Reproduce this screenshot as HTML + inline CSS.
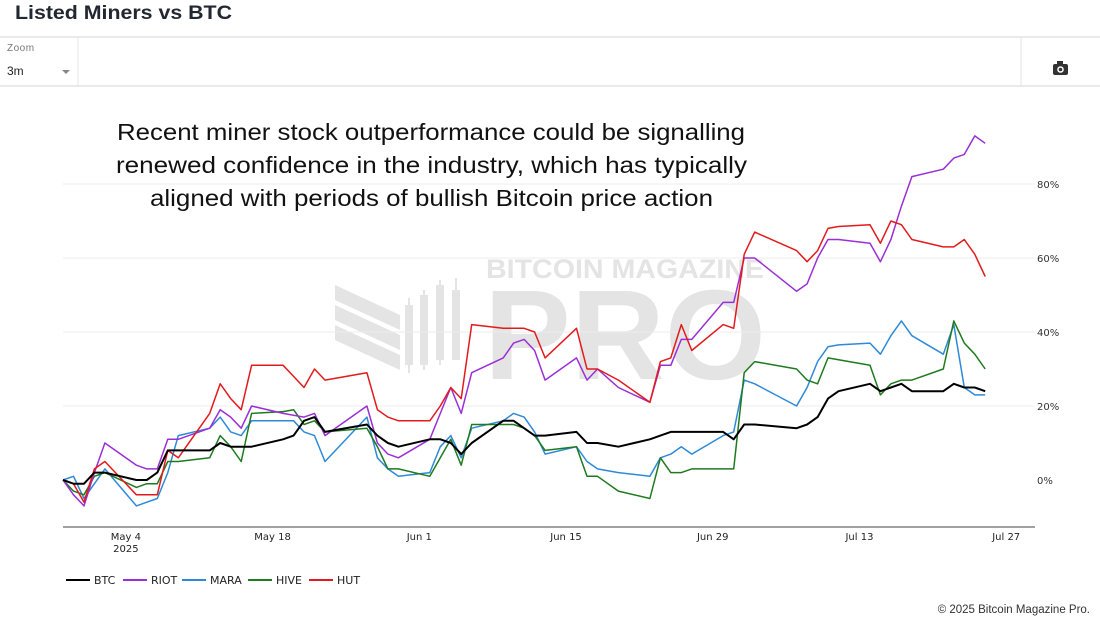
<!DOCTYPE html>
<html><head><meta charset="utf-8">
<style>
body{margin:0;background:#fff;width:1100px;height:618px;overflow:hidden;font-family:"Liberation Sans",sans-serif;}
#wrap{position:relative;width:1100px;height:618px;}
</style></head>
<body><div id="wrap">
<svg id="chart" width="1100" height="618" viewBox="0 0 1100 618" xmlns="http://www.w3.org/2000/svg">
<text x="15" y="19" font-size="19" font-weight="bold" fill="#222831" textLength="217" lengthAdjust="spacingAndGlyphs">Listed Miners vs BTC</text>
<line x1="0" y1="37" x2="1100" y2="37" stroke="#e4e4e4" stroke-width="1.5"/>
<line x1="0" y1="86" x2="1100" y2="86" stroke="#e4e4e4" stroke-width="1.5"/>
<line x1="78" y1="37" x2="78" y2="86" stroke="#e4e4e4"/>
<line x1="1021" y1="37" x2="1021" y2="86" stroke="#e4e4e4"/>
<g>
<text x="7" y="51" font-size="10" fill="#777" letter-spacing="0.5">Zoom</text>
<text x="7" y="75" font-size="12" fill="#222">3m</text>
<path d="M62 70 L70 70 L66 74 Z" fill="#888"/>
</g>
<g>
<rect x="1053" y="64" width="15" height="11" rx="2" fill="#333"/>
<rect x="1057" y="61" width="6" height="4" fill="#333"/>
<circle cx="1060.5" cy="69.5" r="3.3" fill="#fff"/>
<circle cx="1060.5" cy="69.5" r="1.8" fill="#333"/>
</g>
<g fill="#e4e4e4">
<polygon points="335,285 400,315 400,330 335,300"/>
<polygon points="335,305 400,335 400,350 335,320"/>
<polygon points="335,325 400,355 400,370 335,340"/>
<rect x="405" y="305" width="8" height="60"/><rect x="408" y="298" width="2" height="75"/>
<rect x="420" y="295" width="8" height="70"/><rect x="423" y="290" width="2" height="80"/>
<rect x="436" y="285" width="8" height="75"/><rect x="439" y="280" width="2" height="85"/>
<rect x="452" y="290" width="8" height="70"/><rect x="455" y="278" width="2" height="80"/>
<text x="486" y="278" font-size="27" font-weight="bold" textLength="278" lengthAdjust="spacingAndGlyphs">BITCOIN MAGAZINE</text>
<text x="484" y="379" font-size="128" font-weight="bold" textLength="282" lengthAdjust="spacingAndGlyphs">PRO</text>
</g>
<g id="grid"></g>
<g id="series"></g>
<g font-size="23.5" fill="#111">
<text x="117" y="140" textLength="628" lengthAdjust="spacingAndGlyphs">Recent miner stock outperformance could be signalling</text>
<text x="116" y="173" textLength="631" lengthAdjust="spacingAndGlyphs">renewed confidence in the industry, which has typically</text>
<text x="150" y="206" textLength="563" lengthAdjust="spacingAndGlyphs">aligned with periods of bullish Bitcoin price action</text>
</g>
<g id="legend" font-size="11" font-family="'DejaVu Sans',sans-serif" fill="#222"></g>
<text x="1090" y="613" font-size="11.5" fill="#333" text-anchor="end">© 2025 Bitcoin Magazine Pro.</text>
</svg>
<script>
const days = [0,1,2,3,4, 7,8,9,10,11, 14,15,16,17,18, 21,22,23,24,25, 29,30,31,32, 35,36,37,38,39, 42,43,44,45,46, 49,50,51,53, 56,57,58,59,60, 63,64,65,66, 70,71,72,73,74, 77,78,79,80,81, 84,85,86,87,88];
const btc  = [0,-1,-1,2,2, 0,0,2,8,8, 8,10,9,9,9, 11,12,16,17,13, 15,12,10,9, 11,11,10,7,10, 16,16,14,12,12, 13,10,10,9, 11,12,13,13,13, 13,11,15,15, 14,15,17,22,24, 26,24,25,26,24, 24,26,25,25,24];
const riot = [0,-4,-7,2,10, 4,3,3,11,11, 14,19,17,14,20, 18,17.5,17,18,12, 20,10,7,6, 11,18,25,18,29, 33,37,38,35,27, 33,27,30,25, 21,31,31,38,38, 48,48,60,60, 51,53,60,65,65, 64,59,65,74,82, 84,87,88,93,91];
const mara = [0,1,-5,-1,3, -7,-6,-5,2,12, 14,17,13,12,16, 16,16,13,12,5, 17,6,3,1, 2,9,12,6,14, 16,18,17,13,7, 9,5,3,2, 1,6,7,9,7, 12,13,27,26, 20,25,32,36,36.5, 37,34,39,43,39, 34,42,25,23,23];
const hive = [0,-3,-4,1,2, -2,-1,-1,5,5, 6,12,9,5,18, 18.5,19,15,16,13, 14,9,3,3, 1,6,11,4,15, 15,15,14,12,8, 9,1,1,-3, -5,6,2,2,3, 3,3,29,32, 30,27,26,33,32.5, 31,23,26,27,27, 30,43,37,34,30];
const hut  = [0,-1,-6,3,5, -4,-4,-4,8,6, 18,26,22,19,31, 31,28,25,30,27, 29,19,17,16, 16,20,25,22,42, 41,41,41,40,33, 41,30,30,27, 21,32,33,42,35, 42,41,61,67, 62,59,62,68,68.5, 69,64,70,69,65, 63,63,65,61,55];
const yTicks = [0,20,40,60,80];
const xTickDays = [6,20,34,48,62,76,90];
const xTickLabels = ["May 4","May 18","Jun 1","Jun 15","Jun 29","Jul 13","Jul 27"];
const seriesNames = ["BTC","RIOT","MARA","HIVE","HUT"];
const seriesColors = ["#000000","#9b2fd6","#2e8ad8","#1f7a1f","#e31a1c"];

const NS="http://www.w3.org/2000/svg";
const X0=63, PXD=10.48, Y0=480, PXP=3.7;
const xs=d=>X0+d*PXD, ys=v=>Y0-v*PXP;
function mk(tag,attrs,parent){const e=document.createElementNS(NS,tag);for(const k in attrs)e.setAttribute(k,attrs[k]);parent.appendChild(e);return e;}
const grid=document.getElementById('grid');
yTicks.forEach(t=>{
  if(t!==0){const l=mk('line',{x1:63,x2:1035,y1:ys(t),y2:ys(t),stroke:'#ececec','stroke-width':1},grid);
  
  }
  const tx=mk('text',{x:1037,y:ys(t)+4,'font-size':10,fill:'#333','font-family':"'DejaVu Sans',sans-serif"},grid);
  tx.textContent=t+'%';
  
  
});
const ax=mk('line',{x1:63,x2:1035,y1:527,y2:527,stroke:'#444','stroke-width':1},grid);


xTickDays.forEach((d,i)=>{
  const tx=mk('text',{x:xs(d),y:540,'font-size':10,fill:'#222','text-anchor':'middle','font-family':"'DejaVu Sans',sans-serif"},grid);
  tx.textContent=xTickLabels[i];
  
  
});
const yr=mk('text',{x:xs(6),y:552,'font-size':10,fill:'#222','text-anchor':'middle','font-family':"'DejaVu Sans',sans-serif"},grid);
yr.textContent='2025';



const sg=document.getElementById('series');
const data=[btc,riot,mara,hive,hut];
[2,3,1,4,0].forEach(i=>{
  const pts=data[i].map((v,j)=>xs(days[j]).toFixed(1)+','+ys(v).toFixed(1)).join(' ');
  const p=mk('polyline',{points:pts,fill:'none',stroke:seriesColors[i],'stroke-width':i===0?2:1.5,'stroke-linejoin':'round'},sg);
  
  
});
const lg=document.getElementById('legend');
const lx=[66,123,182,248,309];
seriesNames.forEach((n,i)=>{
  const g=mk('g',{},lg);
  
  
  mk('line',{x1:lx[i],x2:lx[i]+24,y1:580,y2:580,stroke:seriesColors[i],'stroke-width':2},g);
  const t=mk('text',{x:lx[i]+28,y:584},g);t.textContent=n;
});
</script>
</div></body></html>
